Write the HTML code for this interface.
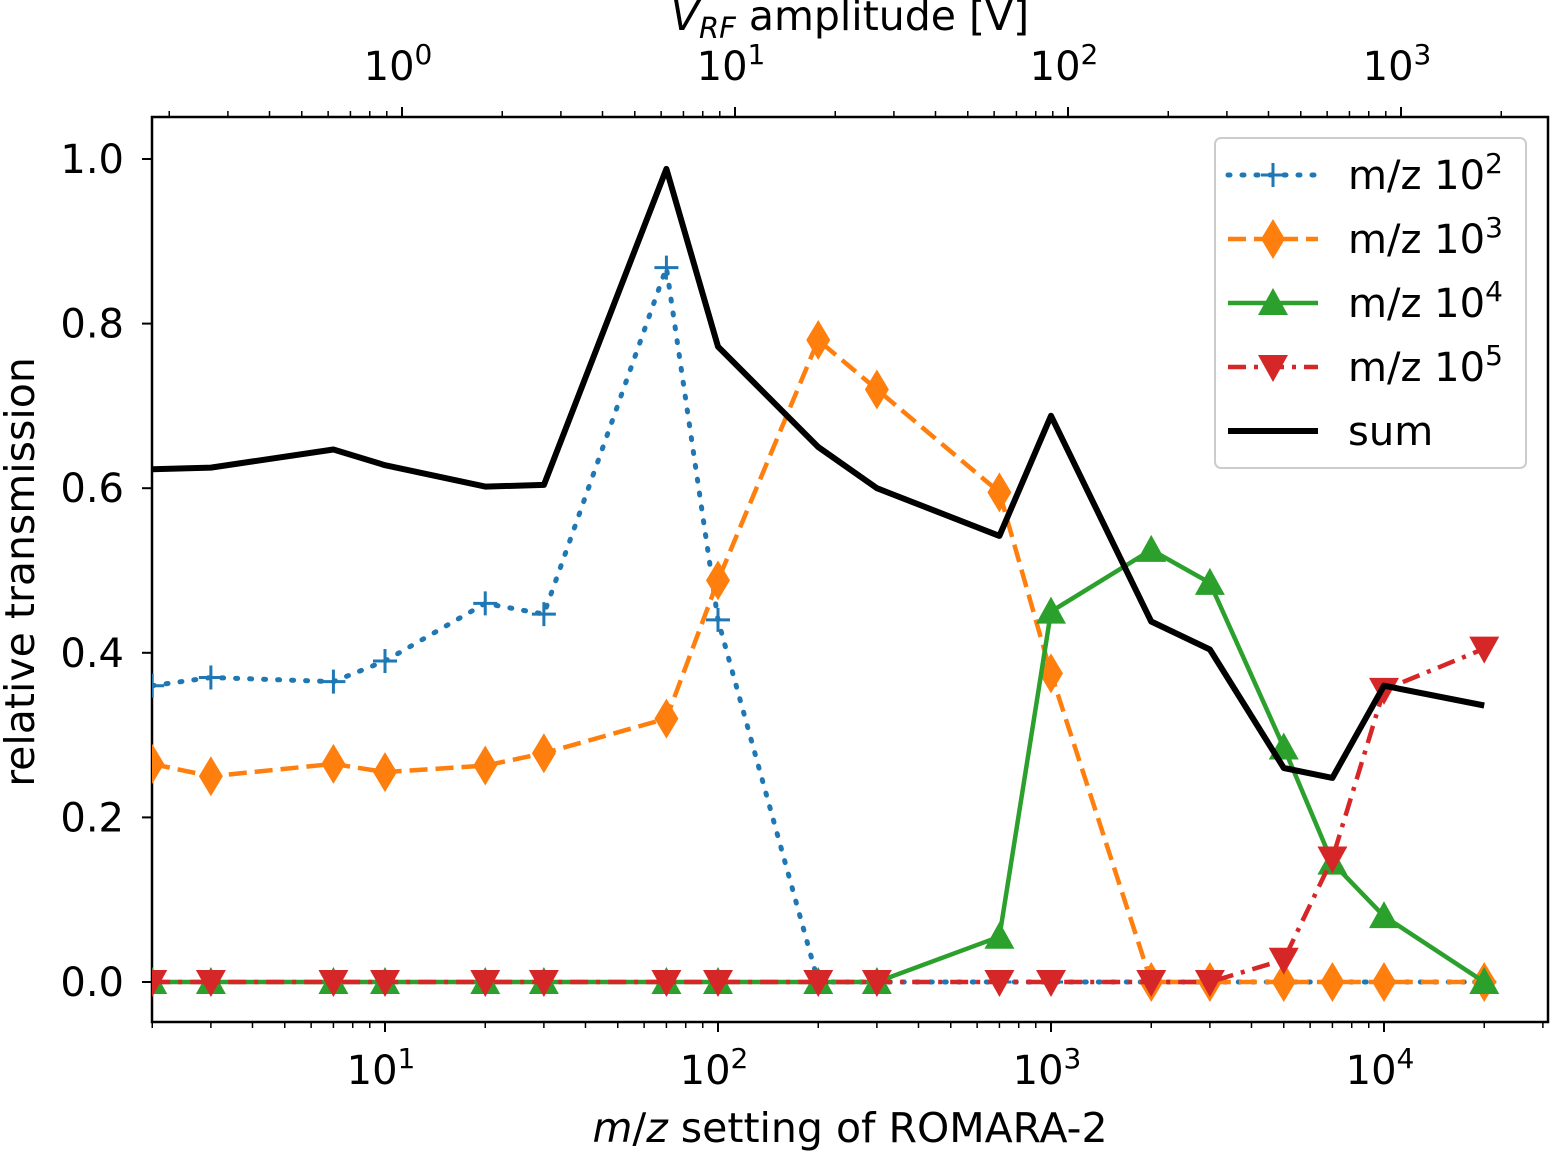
<!DOCTYPE html>
<html><head><meta charset="utf-8"><style>
body{margin:0;background:#fff;}
svg{display:block;font-family:"DejaVu Sans","Liberation Sans",sans-serif;}
</style></head><body>
<svg id="chart" width="1550" height="1153" viewBox="0 0 1550 1153" xmlns="http://www.w3.org/2000/svg"></svg>
<script>
const mzValues = [2,3,7,10,20,30,70,100,200,300,700,1000,2000,3000,5000,7000,10000,20000];
const series100 = [0.36,0.37,0.365,0.39,0.46,0.447,0.868,0.44,0,0,0,0,0,0,0,0,0,0];
const series1000 = [0.265,0.25,0.265,0.255,0.263,0.278,0.32,0.488,0.78,0.72,0.595,0.375,0,0,0,0,0,0];
const series10000 = [0,0,0,0,0,0,0,0,0,0,0.055,0.45,0.525,0.485,0.285,0.145,0.08,0];
const series100000 = [0,0,0,0,0,0,0,0,0,0,0,0,0,0,0.027,0.15,0.355,0.405];
const seriesSum = [0.623,0.625,0.647,0.628,0.602,0.604,0.988,0.772,0.65,0.6,0.542,0.688,0.438,0.404,0.26,0.248,0.36,0.336];
const yTicks = [0.0,0.2,0.4,0.6,0.8,1.0];
const xTickExps = [1,2,3,4];
const topTickExps = [0,1,2,3];
const vPerMz = 0.0889;

const NS="http://www.w3.org/2000/svg";
const svg=document.getElementById('chart');
const L=152,R=1548,T=117,B=1022;
const xMinLog=0.3003, decadePx=333;
const X=v=>L+(Math.log10(v)-xMinLog)*decadePx;
const Y=v=>982-v*823;
function el(tag,attrs,parent){const e=document.createElementNS(NS,tag);for(const k in attrs)e.setAttribute(k,attrs[k]);(parent||svg).appendChild(e);return e;}

const frame=el('rect',{x:L,y:T,width:R-L,height:B-T,fill:'none',stroke:'#000','stroke-width':2.5});



yTicks.forEach(v=>{
  const y=Y(v);
  el('line',{x1:L-10,x2:L,y1:y,y2:y,stroke:'#000','stroke-width':2});
  const t=el('text',{x:L-28,y:y+14,'text-anchor':'end','font-size':40});
  t.textContent=v.toFixed(1);
  
  
});
const maxLog=xMinLog+(R-L)/decadePx;
for(let e=0;e<=5;e++){for(let m=1;m<10;m++){const v=m*Math.pow(10,e);const lg=Math.log10(v);if(lg<xMinLog||lg>maxLog)continue;const x=X(v);const len=m===1?10:6;el('line',{x1:x,x2:x,y1:B,y2:B+len,stroke:'#000','stroke-width':m===1?2:1.5});}}
xTickExps.forEach(e=>{
  const t=el('text',{x:X(Math.pow(10,e))-4,y:1084,'text-anchor':'middle','font-size':40});
  t.innerHTML='10<tspan dy="-16" font-size="28">'+e+'</tspan>';
  
  
});
const XV=v=>X(v/vPerMz);
for(let e=-1;e<=4;e++){for(let m=1;m<10;m++){const v=m*Math.pow(10,e);const x=XV(v);if(x<L||x>R)continue;const len=m===1?10:6;el('line',{x1:x,x2:x,y1:T,y2:T-len,stroke:'#000','stroke-width':m===1?2:1.5});}}
topTickExps.forEach(e=>{
  const t=el('text',{x:XV(Math.pow(10,e))-4,y:80,'text-anchor':'middle','font-size':40});
  t.innerHTML='10<tspan dy="-16" font-size="28">'+e+'</tspan>';
  
  
});
let t=el('text',{x:850,y:1142,'text-anchor':'middle','font-size':41});
t.innerHTML='<tspan font-style="italic">m</tspan>/<tspan font-style="italic">z</tspan> setting of ROMARA-2';

t=el('text',{x:850,y:30,'text-anchor':'middle','font-size':41});
t.innerHTML='<tspan font-style="italic">V</tspan><tspan font-style="italic" font-size="29" dy="8">RF</tspan><tspan dy="-8"> amplitude [V]</tspan>';

t=el('text',{x:0,y:0,'text-anchor':'middle','font-size':41,transform:'translate(34,572) rotate(-90)'});
t.textContent='relative transmission';


function marker(type,x,y,color,g){
  if(type==='plus'){el('path',{d:`M${x-12},${y}H${x+12}M${x},${y-12}V${y+12}`,stroke:color,'stroke-width':3,fill:'none'},g);}
  else if(type==='diamond'){el('path',{d:`M${x},${y-20}L${x+12},${y}L${x},${y+20}L${x-12},${y}Z`,fill:color},g);}
  else if(type==='up'){el('path',{d:`M${x},${y-15}L${x+15},${y+12}L${x-15},${y+12}Z`,fill:color},g);}
  else if(type==='down'){el('path',{d:`M${x},${y+15}L${x+15},${y-12}L${x-15},${y-12}Z`,fill:color},g);}
}
const cl=el('clipPath',{id:'clip'});el('rect',{x:L,y:T,width:R-L,height:B-T},cl);
const defs=[
 {name:'series-mz-1e2',vals:series100,color:'#1f77b4',dash:'2,12',cap:'round',m:'plus',w:5},
 {name:'series-mz-1e3',vals:series1000,color:'#ff7f0e',dash:'18,8',cap:'butt',m:'diamond',w:4.5},
 {name:'series-mz-1e4',vals:series10000,color:'#2ca02c',dash:'',cap:'butt',m:'up',w:4.5},
 {name:'series-mz-1e5',vals:series100000,color:'#d62728',dash:'18,8,4,8',cap:'butt',m:'down',w:4.5},
 {name:'series-sum',vals:seriesSum,color:'#000',dash:'',cap:'butt',m:null,w:6}
];
defs.forEach(s=>{
  const g=el('g',{'clip-path':'url(#clip)'});
  
  
  const pts=mzValues.map((v,i)=>X(v).toFixed(1)+','+Y(s.vals[i]).toFixed(1)).join(' ');
  const a={points:pts,fill:'none',stroke:s.color,'stroke-width':s.w,'stroke-linecap':s.cap,'stroke-linejoin':'round'};
  if(s.dash)a['stroke-dasharray']=s.dash;
  el('polyline',a,g);
  if(s.m)mzValues.forEach((v,i)=>marker(s.m,X(v),Y(s.vals[i]),s.color,g));
});

const lg=el('g',{});

el('rect',{x:1215,y:138,width:311,height:330,rx:6,fill:'#fff','fill-opacity':0.8,stroke:'#ccc','stroke-width':2},lg);
const labels=['2','3','4','5',null];
defs.forEach((s,i)=>{
  const y=175+i*64;
  const eg=el('g',{},lg);
  
  
  const a={x1:1228,x2:1318,y1:y,y2:y,stroke:s.color,'stroke-width':s.w,'stroke-linecap':s.cap};
  if(s.dash)a['stroke-dasharray']=s.dash;
  el('line',a,eg);
  if(s.m)marker(s.m,1273,y,s.color,eg);
  const tx=el('text',{x:1348,y:y+14,'font-size':40},eg);
  tx.innerHTML=labels[i]?'m/z 10<tspan dy="-16" font-size="28">'+labels[i]+'</tspan>':'sum';
});
</script>
</body></html>
